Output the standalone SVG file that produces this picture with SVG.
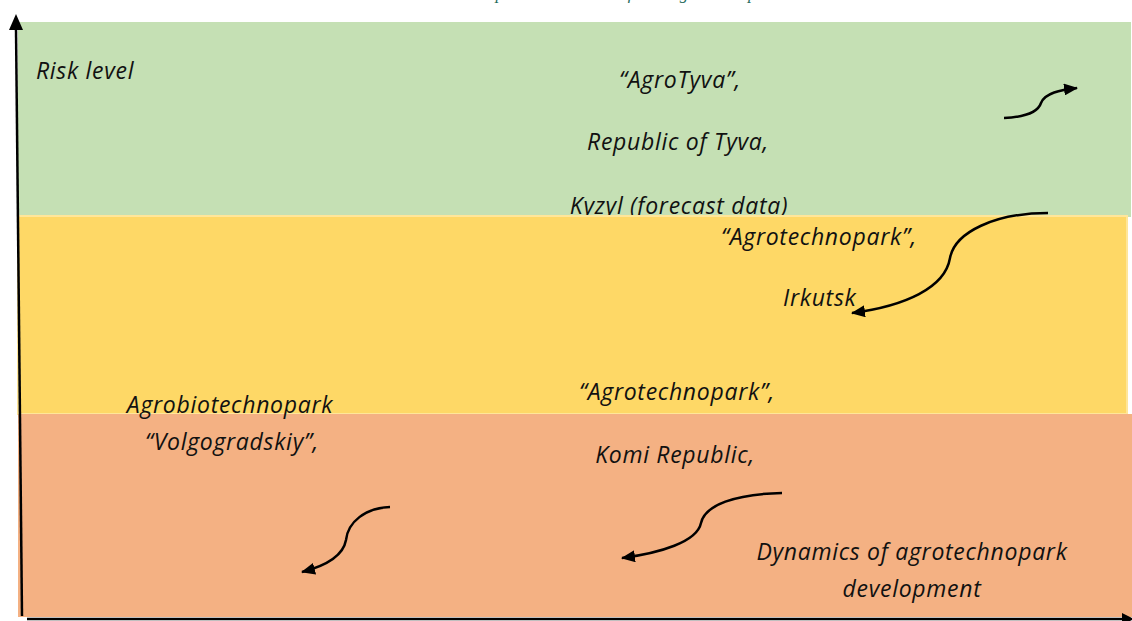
<svg xmlns="http://www.w3.org/2000/svg" width="1132" height="621" viewBox="0 0 1132 621">
  <defs>
    <style>
      .lbl { font-family: "Open Sans", "Liberation Sans", sans-serif; font-style: italic; font-size: 23px; letter-spacing: 0.7px; fill: #111; }
      .mid { text-anchor: middle; }
      .cap { font-family: "Liberation Serif", serif; font-style: italic; font-size: 17px; fill: #1f6b5c; text-anchor: middle; }
      .curve { fill: none; stroke: #000; stroke-width: 2.5; }
      .axis { fill: none; stroke: #000; stroke-width: 2.5; }
    </style>
    <marker id="head" viewBox="0 0 14 12" refX="13" refY="6" markerWidth="14" markerHeight="12" markerUnits="userSpaceOnUse" orient="auto">
      <path d="M0,0 L14,6 L0,12 Z" fill="#000"/>
    </marker>
  </defs>
  <rect width="1132" height="621" fill="#ffffff"/>
  <text class="cap" x="595" y="-1">Source: compiled on the basis of data agrotechnopark</text>

  <g id="band-high">
    <rect x="18" y="22" width="1113" height="195" fill="#c5e0b4"/>
    <text class="lbl" x="36" y="79">Risk level</text>
  </g>
  <g id="node-agrotyva">
    <text class="lbl mid" x="680" y="88">“AgroTyva”,</text>
    <text class="lbl mid" x="678" y="150">Republic of Tyva,</text>
    <text class="lbl mid" x="679" y="214">Kyzyl (forecast data)</text>
  </g>
  <g id="band-medium">
    <rect x="18" y="216" width="1109" height="198" fill="#fed866" stroke="#ffe699" stroke-width="2"/>
  </g>
  <g id="node-irkutsk">
    <text class="lbl mid" x="819" y="245">“Agrotechnopark”,</text>
    <text class="lbl" x="783" y="306">Irkutsk</text>
  </g>
  <g id="band-low">
    <rect x="18" y="414" width="1114" height="203" fill="#f4b183"/>
  </g>
  <g id="node-komi">
    <text class="lbl mid" x="677" y="400">“Agrotechnopark”,</text>
    <text class="lbl mid" x="675" y="463">Komi Republic,</text>
  </g>
  <g id="node-volgograd">
    <text class="lbl mid" x="230" y="413">Agrobiotechnopark</text>
    <text class="lbl mid" x="232" y="450">“Volgogradskiy”,</text>
  </g>
  <g id="node-dynamics">
    <text class="lbl mid" x="912" y="560">Dynamics of agrotechnopark</text>
    <text class="lbl mid" x="912" y="597">development</text>
  </g>

  <g id="axes">
    <path class="axis" d="M22,616 L16,28" />
    <path d="M16,14 L23,30 L9,30 Z" fill="#000"/>
    <path class="axis" d="M27,619 L1126,619" />
    <path d="M1134,619 L1122,613 L1122,625 Z" fill="#000"/>
  </g>

  <g id="connectors">
    <path class="curve" marker-end="url(#head)" d="M1004,118 C1025,117 1038,112 1041,103 C1045,93 1060,90 1077,88"/>
    <path class="curve" marker-end="url(#head)" d="M1048,213 C995,213 955,232 950,258 C945,288 905,306 852,313"/>
    <path class="curve" marker-end="url(#head)" d="M390,507 C365,508 348,522 346,540 C343,557 325,566 302,572"/>
    <path class="curve" marker-end="url(#head)" d="M782,493 C735,494 705,505 701,523 C697,542 660,553 622,558"/>
  </g>
</svg>
